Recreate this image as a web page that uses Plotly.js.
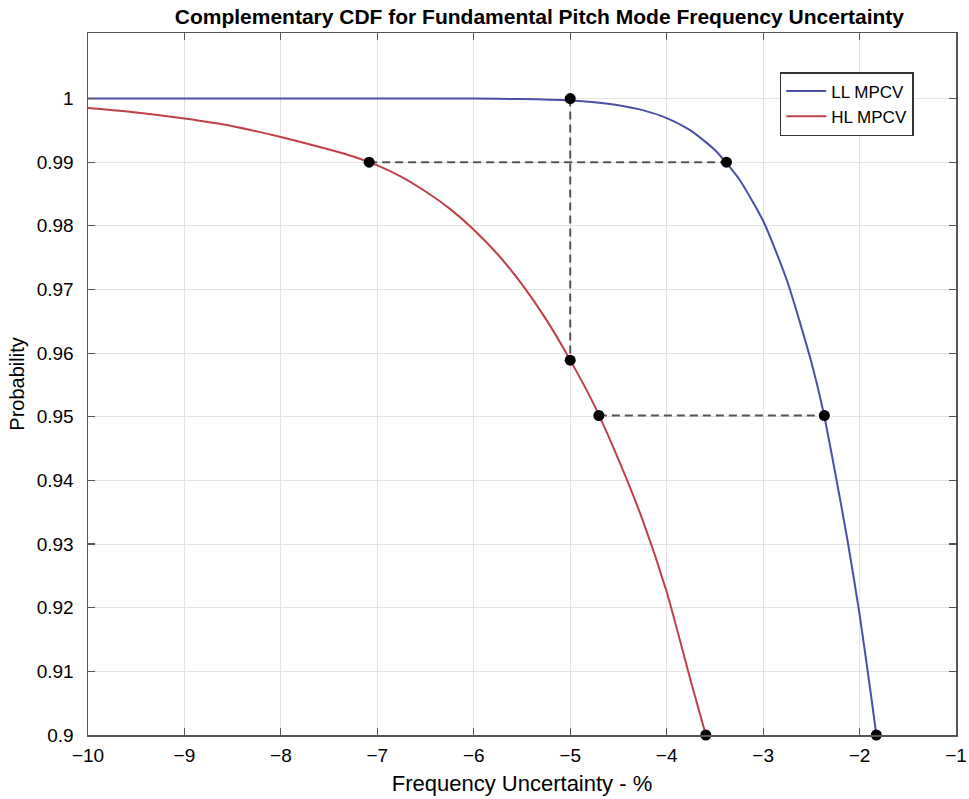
<!DOCTYPE html>
<html>
<head>
<meta charset="utf-8">
<script src="https://cdn.plot.ly/plotly-3.0.1.min.js"></script>
<style>html,body{margin:0;padding:0;background:#fff;}#chart{width:969px;height:799px;}</style>
</head>
<body>
<div id="chart"></div>
<script>
// LL MPCV curve
const llX = [-10, -7, -6, -5.5, -5, -4.75, -4.5, -4.25, -4, -3.75, -3.5, -3.25, -3, -2.75, -2.5, -2.375, -2.25, -2.125, -2, -1.875, -1.826];
const llY = [1.0, 1.0, 1.0, 0.99992, 0.99968, 0.99941, 0.99895, 0.99818, 0.99693, 0.99495, 0.99191, 0.98736, 0.9808, 0.9713, 0.9586, 0.9508, 0.9410, 0.9306, 0.9190, 0.9056, 0.9];
// HL MPCV curve
const hlX = [-10, -9.5, -9, -8.5, -8, -7.5, -7.25, -7, -6.75, -6.5, -6.25, -6, -5.75, -5.5, -5.25, -5, -4.75, -4.5, -4.25, -4, -3.75, -3.594];
const hlY = [0.9985, 0.9978, 0.99685, 0.99565, 0.99395, 0.9920, 0.9909, 0.9895, 0.9877, 0.9854, 0.9827, 0.9794, 0.9755, 0.9708, 0.9653, 0.9589, 0.9518, 0.9433, 0.9338, 0.9225, 0.9085, 0.9];
// marked points
const markX = [-5.0, -3.38, -7.085, -5.0, -4.703, -2.365, -3.594, -1.826];
const markY = [1.0, 0.99, 0.99, 0.9589, 0.9502, 0.9502, 0.9, 0.9];
// dashed guide lines
const guide1X = [-7.085, -3.38]; const guide1Y = [0.99, 0.99];
const guide2X = [-5.0, -5.0];    const guide2Y = [1.0, 0.9589];
const guide3X = [-4.703, -2.365]; const guide3Y = [0.9502, 0.9502];
// ticks
const xTicks = [-10, -9, -8, -7, -6, -5, -4, -3, -2, -1];
const yTicks = [0.9, 0.91, 0.92, 0.93, 0.94, 0.95, 0.96, 0.97, 0.98, 0.99, 1];
const yTickText = ['0.9', '0.91', '0.92', '0.93', '0.94', '0.95', '0.96', '0.97', '0.98', '0.99', '1'];

const dashStyle = {color: '#555555', width: 2, dash: '8px,5px'};
const traces = [
  {x: guide1X, y: guide1Y, mode: 'lines', line: dashStyle, showlegend: false, hoverinfo: 'skip'},
  {x: guide2X, y: guide2Y, mode: 'lines', line: dashStyle, showlegend: false, hoverinfo: 'skip'},
  {x: guide3X, y: guide3Y, mode: 'lines', line: dashStyle, showlegend: false, hoverinfo: 'skip'},
  {x: llX, y: llY, mode: 'lines', name: 'LL MPCV', line: {color: '#4a4fa8', width: 2, shape: 'spline', smoothing: 0.6}},
  {x: hlX, y: hlY, mode: 'lines', name: 'HL MPCV', line: {color: '#c0404a', width: 2, shape: 'spline', smoothing: 0.6}},
  {x: markX, y: markY, mode: 'markers', marker: {color: '#000', size: 11}, showlegend: false, hoverinfo: 'skip', cliponaxis: false}
];

const axisCommon = {
  showline: true, linecolor: '#555555', linewidth: 1.5, mirror: 'ticks',
  ticks: 'inside', ticklen: 7, tickcolor: '#555555', tickwidth: 1.2,
  showgrid: true, gridcolor: '#e2e2e2', gridwidth: 1, zeroline: false,
  ticklabeloverflow: 'allow',
  tickfont: {family: 'Liberation Sans, Arial, sans-serif', size: 19, color: '#000'}
};

const layout = {
  width: 969, height: 799,
  margin: {l: 88, r: 13, t: 33, b: 64},
  paper_bgcolor: '#fff', plot_bgcolor: '#fff',
  font: {family: 'Liberation Sans, Arial, sans-serif', color: '#000'},
  title: {text: '<b>Complementary CDF for Fundamental Pitch Mode Frequency Uncertainty</b>',
          font: {size: 21, color: '#000'}, xref: 'paper', x: 0.52, xanchor: 'center', y: 0.979, yanchor: 'middle'},
  xaxis: Object.assign({}, axisCommon, {range: [-10.0001, -0.9999], tickvals: xTicks, ticklabelstandoff: 3,
          title: {text: 'Frequency Uncertainty - %', font: {size: 22}, standoff: 10}}),
  yaxis: Object.assign({}, axisCommon, {range: [0.9, 1.0103], tickvals: yTicks, ticktext: yTickText, ticklabelstandoff: 9,
          title: {text: 'Probability', font: {size: 20}, standoff: 6}}),
  legend: {x: 0.797, y: 0.9444, xanchor: 'left', yanchor: 'top', bgcolor: '#fff',
           bordercolor: '#333', borderwidth: 1.5, font: {size: 17, color: '#000'},
           tracegroupgap: 0, itemwidth: 40},
  showlegend: true
};

Plotly.newPlot('chart', traces, layout, {displayModeBar: false, staticPlot: true});
</script>
</body>
</html>
